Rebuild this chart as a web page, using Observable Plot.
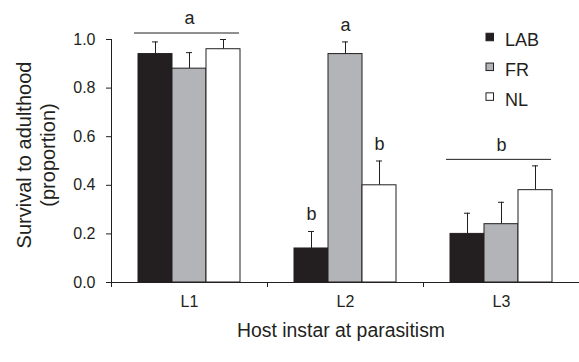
<!DOCTYPE html>
<html><head><meta charset="utf-8">
<script src="https://cdn.jsdelivr.net/npm/d3@7"></script>
<script src="https://cdn.jsdelivr.net/npm/@observablehq/plot@0.6"></script>
<style>
html,body{margin:0;padding:0;background:#fff;}
#chart svg{display:block;font-family:"Liberation Sans",Arial,sans-serif;}
</style></head><body><div id="chart"></div>
<script>
// ---- data ----
const instars = ["L1", "L2", "L3"];
const strains = ["LAB", "FR", "NL"];
const meanL1 = [0.94, 0.88, 0.96];
const meanL2 = [0.14, 0.94, 0.40];
const meanL3 = [0.20, 0.24, 0.38];
const seL1 = [0.05, 0.066, 0.04];
const seL2 = [0.07, 0.05, 0.10];
const seL3 = [0.085, 0.09, 0.10];
const strainColors = ["#231f20", "#b2b4b7", "#ffffff"];
const barLetterInstar = ["L2", "L2", "L2"];
const barLetterStrain = ["LAB", "FR", "NL"];
const barLetterText = ["b", "a", "b"];
const groupLetterInstar = ["L1", "L3"];
const groupLetterText = ["a", "b"];
const yTicks = [0, 0.2, 0.4, 0.6, 0.8, 1.0];
const yLabelLines = ["Survival to adulthood", "(proportion)"];
const xLabel = "Host instar at parasitism";

// ---- tables built from arrays ----
const means = [meanL1, meanL2, meanL3];
const ses = [seL1, seL2, seL3];
const rows = [];
instars.forEach((inst, i) => strains.forEach((s, j) => {
  rows.push({instar: inst, strain: s, mean: means[i][j], se: ses[i][j], top: means[i][j] + ses[i][j]});
}));
const topOf = (inst, s) => rows.find(r => r.instar === inst && r.strain === s).top;
const barLetters = barLetterText.map((t, k) => ({instar: barLetterInstar[k], strain: barLetterStrain[k], letter: t, top: topOf(barLetterInstar[k], barLetterStrain[k])}));
const groupLetters = groupLetterText.map((t, k) => ({instar: groupLetterInstar[k], letter: t, top: d3.max(rows.filter(r => r.instar === groupLetterInstar[k]), r => r.top)}));

const ink = "#231f20";
const chart = Plot.plot({
  width: 579, height: 362,
  marginLeft: 111, marginRight: 0, marginTop: 39, marginBottom: 80,
  style: {fontFamily: "'Liberation Sans', Arial, sans-serif", color: ink, background: "#fff", overflow: "visible"},
  fx: {domain: instars, padding: 0},
  x: {domain: strains, paddingInner: 0, paddingOuter: 0.73, axis: null},
  y: {domain: [0, 1], axis: null},
  color: {domain: strains, range: strainColors},
  marks: [
    Plot.ruleX(rows, {fx: "instar", x: "strain", y1: "mean", y2: "top", stroke: ink, strokeWidth: 1}),
    Plot.tickY(rows, {fx: "instar", x: "strain", y: "top", insetLeft: 14, insetRight: 14, stroke: ink, strokeWidth: 1}),
    Plot.barY(rows, {fx: "instar", x: "strain", y: "mean", fill: "strain", stroke: ink, strokeWidth: 1}),
    Plot.ruleY([0], {stroke: ink, strokeWidth: 1}),
    Plot.frame({anchor: "left", facetAnchor: "left", stroke: ink, strokeWidth: 1}),
    Plot.axisY({ticks: yTicks, tickFormat: d => d.toFixed(1), tickSize: 5, tickPadding: 11, fontSize: 16, label: null, stroke: ink}),
    Plot.axisFx({anchor: "bottom", tickSize: 0, tickPadding: 13, fontSize: 16, label: null}),
    Plot.text(barLetters, {fx: "instar", x: "strain", y: "top", text: "letter", dy: -17, fontSize: 18, fill: ink}),
    Plot.ruleY(groupLetters, {fx: "instar", y: "top", dy: -6.5, insetLeft: 23, insetRight: 28, stroke: ink, strokeWidth: 1}),
    Plot.text(groupLetters, {fx: "instar", y: "top", text: "letter", dy: -20.8, fontSize: 18, fill: ink})
  ]
});
document.getElementById("chart").appendChild(chart);

// ---- extra decorations using the plot's own scales ----
const svg = d3.select(chart);
const fx = chart.scale("fx");
const yS = chart.scale("y");
const y0 = yS.apply(0), y1 = yS.apply(1);
// boundary ticks under x axis
instars.forEach(v => {
  const xx = Math.round(fx.apply(v)) + 0.5;
  svg.append("line").attr("x1", xx).attr("x2", xx).attr("y1", y0).attr("y2", y0 + 5)
    .attr("stroke", ink).attr("stroke-width", 1);
});
// y label (two lines)
const yMid = (y0 + y1) / 2 - 5.5;
[31, 55].forEach((bx, k) => {
  svg.append("text").attr("transform", `translate(${bx},${yMid}) rotate(-90)`)
    .attr("text-anchor", "middle").attr("font-size", 20).attr("fill", ink)
    .text(yLabelLines[k]);
});
// x label
const fxr = fx.range;
svg.append("text").attr("x", (fxr[0] + fxr[1]) / 2 - 4).attr("y", y0 + 55)
  .attr("text-anchor", "middle").attr("font-size", 19.4).attr("fill", ink).text(xLabel);
// legend
strains.forEach((s, k) => {
  const cy = 37 + k * 29.8;
  svg.append("rect").attr("x", 486).attr("y", cy - 3.75).attr("width", 7.5).attr("height", 7.5)
    .attr("fill", strainColors[k]).attr("stroke", ink).attr("stroke-width", 1);
  svg.append("text").attr("x", 505).attr("y", cy + 9).attr("text-anchor", "start")
    .attr("font-size", 18).attr("fill", ink).text(s);
});
</script></body></html>
